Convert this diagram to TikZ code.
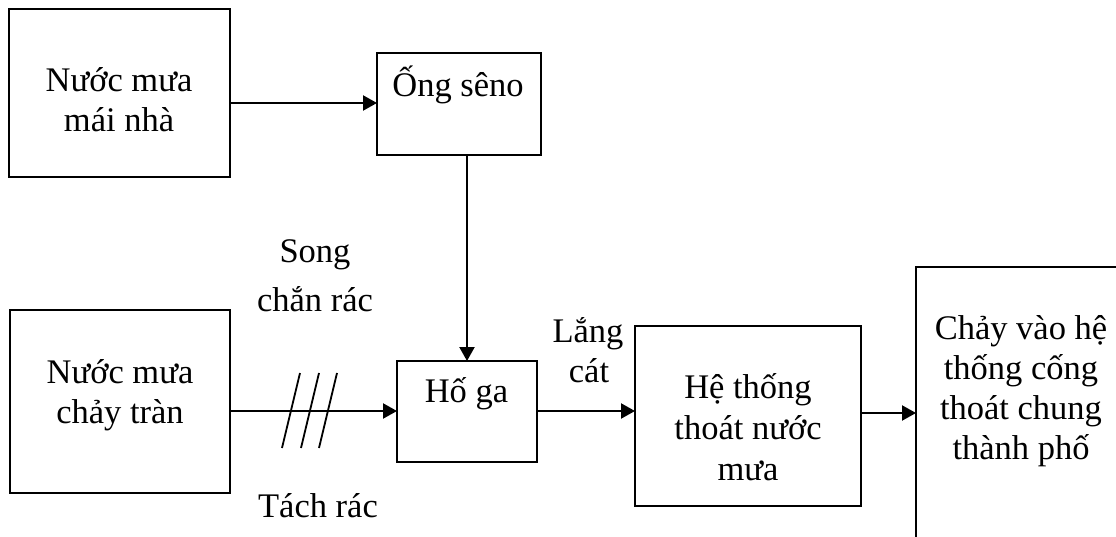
\documentclass[tikz,border=0pt]{standalone}
\usepackage{fontspec}
\setmainfont{Liberation Serif}
\usetikzlibrary{arrows.meta}
\begin{document}
\begin{tikzpicture}[x=1pt,y=-1pt,
  box/.style={draw, line width=2.2pt, inner sep=0pt, outer sep=0pt},
  txt/.style={font=\fontsize{34.5}{40}\selectfont, inner sep=0pt, anchor=base},
  arr/.style={line width=2.2pt, -{Triangle[length=14pt,width=15pt]}},
  slash/.style={line width=1.8pt},
]
\useasboundingbox (0,0) rectangle (1116,537);
\clip (0,0) rectangle (1116,537);
% boxes
\node[box, minimum width=221pt, minimum height=168pt] (A) at (119.5,93) {};
\node[box, minimum width=164pt, minimum height=102pt] (B) at (459,104) {};
\node[box, minimum width=220pt, minimum height=183pt] (C) at (120,401.5) {};
\node[box, minimum width=140pt, minimum height=101pt] (H) at (467,411.5) {};
\node[box, minimum width=226pt, minimum height=180pt] (S) at (748,416) {};
\node[box, minimum width=210pt, minimum height=320pt] (R) at (1021,427) {};
% texts
\node[txt] (a1) at (119,92) {Nước mưa};
\node[txt] (a2) at (119,132) {mái nhà};
\node[txt] (b1) at (458,97) {Ống sêno};
\node[txt] (c1) at (120,383) {Nước mưa};
\node[txt] (c2) at (120,423) {chảy tràn};
\node[txt] (h1) at (466.5,402) {Hố ga};
\node[txt] (s1) at (748,398) {Hệ thống};
\node[txt] (s2) at (748,439) {thoát nước};
\node[txt] (s3) at (748,480) {mưa};
\node[txt] (r1) at (1021,339) {Chảy vào hệ};
\node[txt] (r2) at (1021,379) {thống cống};
\node[txt] (r3) at (1021,419) {thoát chung};
\node[txt] (r4) at (1021,459) {thành phố};
\node[txt] (l1) at (315,263) {Song};
\node[txt] (l2) at (315,311) {chắn rác};
\node[txt] (l3) at (318,517) {Tách rác};
\node[txt] (l4) at (588,342) {Lắng};
\node[txt] (l5) at (589,382) {cát};
% connectors
\draw[arr] (A.east |- 0,103) -- (B.west |- 0,103);
\draw[arr] (H.north |- B.south) -- (H.north);
\draw[arr] (C.east |- 0,411) -- (H.west |- 0,411);
\draw[arr] (H.east |- 0,411) -- (S.west |- 0,411);
\draw[arr] (S.east |- 0,413) -- (R.west |- 0,413);
% trash rack slashes
\draw[slash] (282,448) -- (300,373);
\draw[slash] (301,448) -- (319,373);
\draw[slash] (319,448) -- (337,373);
\end{tikzpicture}
\end{document}
